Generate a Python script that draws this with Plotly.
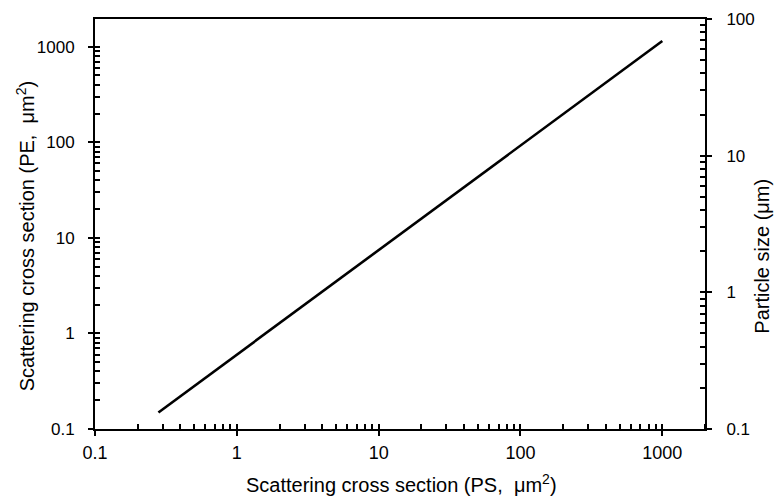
import plotly.graph_objects as go

# Data
ps_cross_section = [0.28, 0.5, 1, 2, 5, 10, 20, 50, 100, 200, 500, 1000]
pe_cross_section = [0.149, 0.281, 0.600, 1.28, 3.49, 7.45, 15.9, 43.4, 92.5, 197, 538, 1148]

x_ticks = [0.1, 1, 10, 100, 1000]
x_tick_labels = ["0.1", "1", "10", "100", "1000"]
y_ticks = [0.1, 1, 10, 100, 1000]
y_tick_labels = ["0.1", "1", "10", "100", "1000"]
size_ticks = [0.1, 1, 10, 100]
size_tick_labels = ["0.1", "1", "10", "100"]

x_title = "Scattering cross section (PS,  μm<sup>2</sup>)"
y_title = "Scattering cross section (PE,  μm<sup>2</sup>)"
size_title = "Particle size (μm)"


def minor_vals(lo_exp, hi_exp):
    return [m * 10 ** e for e in range(lo_exp, hi_exp + 1) for m in range(2, 10)]


FONT = "Liberation Sans, Arial, sans-serif"
X_RANGE = [-1, 3.301]
Y_RANGE = [-1, 3.29]
S_RANGE = [-1, 2]

fig = go.Figure()
fig.add_trace(go.Scatter(x=ps_cross_section, y=pe_cross_section, mode="lines",
                         line=dict(color="black", width=2.6), showlegend=False,
                         hoverinfo="skip"))
# invisible helpers so overlay axes are drawn
for xa, ya in [("x2", "y"), ("x", "y2"), ("x", "y3"), ("x", "y4")]:
    fig.add_trace(go.Scatter(x=[1], y=[1], xaxis=xa, yaxis=ya, mode="markers",
                             marker=dict(opacity=0), showlegend=False,
                             hoverinfo="skip"))

xtickfont = dict(family=FONT, size=18, color="black")
ytickfont = dict(family=FONT, size=17, color="black")
titlefont = dict(family=FONT, size=20, color="black")

common = dict(type="log", showgrid=False, zeroline=False, automargin=False)

fig.update_layout(
    width=774, height=502,
    margin=dict(l=95, r=69, t=19, b=73, autoexpand=False),
    paper_bgcolor="white", plot_bgcolor="white",
    xaxis=dict(**common, range=X_RANGE,
               showline=True, linecolor="black", linewidth=2, mirror=True,
               tickvals=x_ticks, ticktext=x_tick_labels, ticks="outside",
               ticklen=5, tickwidth=2, tickcolor="black", tickfont=xtickfont,
               ticklabelstandoff=1,
               minor=dict(tickvals=minor_vals(-1, 3), ticks="inside", ticklen=5,
                          tickwidth=1.5, tickcolor="black", showgrid=False)),
    xaxis2=dict(**common, range=X_RANGE, overlaying="x", side="bottom",
                showline=False, tickvals=x_ticks, ticks="inside", ticklen=5,
                tickwidth=2, tickcolor="black", showticklabels=False),
    yaxis=dict(**common, range=Y_RANGE,
               showline=True, linecolor="black", linewidth=2,
               tickvals=y_ticks, ticktext=y_tick_labels, ticks="outside",
               ticklen=5, tickwidth=2, tickcolor="black", tickfont=ytickfont,
               ticklabelstandoff=10,
               minor=dict(tickvals=minor_vals(-1, 3), ticks="inside", ticklen=5,
                          tickwidth=1.5, tickcolor="black", showgrid=False)),
    yaxis3=dict(**common, range=Y_RANGE, overlaying="y", side="left",
                showline=False, tickvals=y_ticks, ticks="inside", ticklen=5,
                tickwidth=2, tickcolor="black", showticklabels=False),
    yaxis2=dict(**common, range=S_RANGE, overlaying="y", side="right",
                showline=True, linecolor="black", linewidth=2,
                tickvals=size_ticks, ticktext=size_tick_labels, ticks="outside",
                ticklen=5, tickwidth=2, tickcolor="black", tickfont=ytickfont,
                ticklabelstandoff=11,
                minor=dict(tickvals=minor_vals(-1, 1), ticks="inside", ticklen=5,
                           tickwidth=1.5, tickcolor="black", showgrid=False)),
    yaxis4=dict(**common, range=S_RANGE, overlaying="y", side="right",
                showline=False, tickvals=size_ticks, ticks="inside", ticklen=5,
                tickwidth=2, tickcolor="black", showticklabels=False),
    annotations=[
        dict(text=x_title, xref="paper", yref="paper", x=0.502, y=-0.134,
             xanchor="center", yanchor="middle", showarrow=False, font=titlefont),
        dict(text=y_title, xref="paper", yref="paper", x=-0.114, y=0.471,
             xanchor="center", yanchor="middle", textangle=-90,
             showarrow=False, font=titlefont),
        dict(text=size_title, xref="paper", yref="paper", x=1.093, y=0.422,
             xanchor="center", yanchor="middle", textangle=-90,
             showarrow=False, font=titlefont),
    ],
)

fig.write_html("out.html")
